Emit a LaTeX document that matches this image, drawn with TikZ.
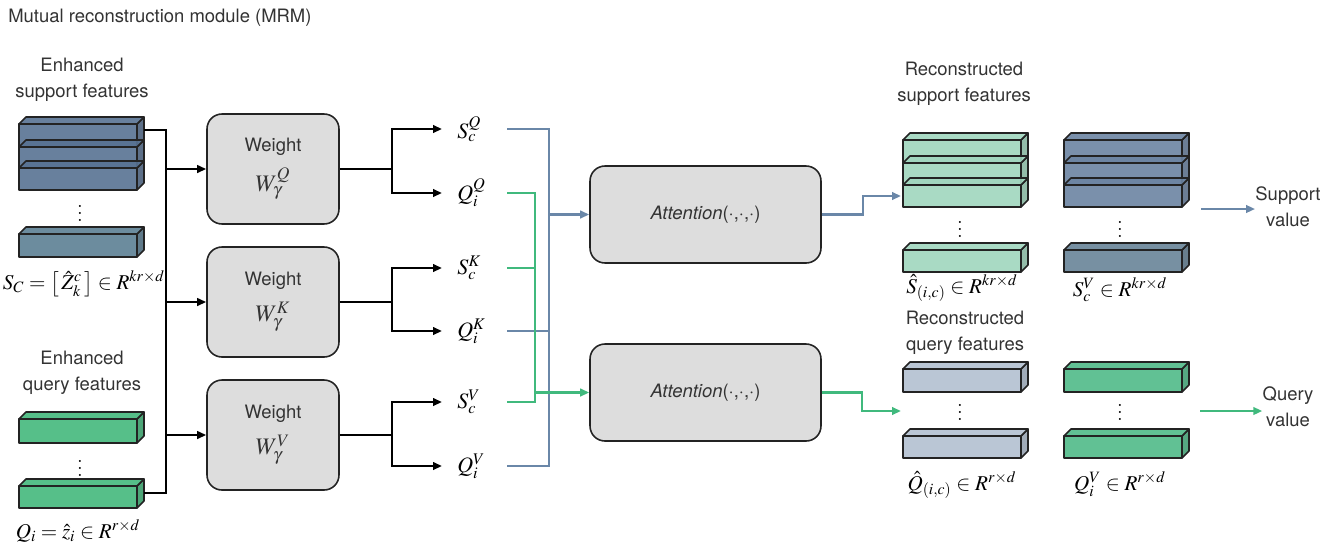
\documentclass[tikz,border=0pt]{standalone}
\usepackage{mathptmx}
\usepackage{fontspec}
\setsansfont{TeX Gyre Heros}
\usetikzlibrary{arrows.meta,calc}

\definecolor{txtgray}{RGB}{51,51,51}
\definecolor{boxgray}{RGB}{221,221,221}
\definecolor{boxline}{RGB}{35,35,35}
\definecolor{supblue}{RGB}{88,114,146}
\definecolor{supblueb}{RGB}{92,127,147}
\definecolor{qrygreen}{RGB}{68,184,124}
\definecolor{recgreen}{RGB}{160,214,190}
\definecolor{valblue}{RGB}{108,132,162}
\definecolor{valblueb}{RGB}{104,132,152}
\definecolor{recgray}{RGB}{178,192,208}
\definecolor{valgreen}{RGB}{80,186,136}
\definecolor{lineblue}{RGB}{106,135,168}
\definecolor{linegreen}{RGB}{64,185,125}

% one feature bar: x, y (top of front face), height, colour
\newcommand{\slab}[4]{%
  \filldraw[slabline,fill=#4!85!black] ({#1+118},#2) -- ++(7,-7) -- ++(0,#3) -- ++(-7,7) -- cycle;
  \filldraw[slabline,fill=#4] (#1,#2) -- ++(7,-7) -- ++(118,0) -- ++(-7,7) -- cycle;
  \filldraw[slabline,fill=#4] (#1,#2) rectangle ++(118,#3);
}

\begin{document}
\begin{tikzpicture}[x=0.02cm,y=-0.02cm,
  slabline/.style={draw=boxline,line width=0.9pt,fill opacity=0.9,line join=round},
  txt/.style={font=\sffamily\fontsize{10.5}{12.6}\selectfont,text=txtgray,align=center,inner sep=0pt},
  mth/.style={font=\fontsize{12}{14}\selectfont,inner sep=0pt},
  lab/.style={font=\fontsize{12.5}{14}\selectfont,anchor=west,inner ysep=0pt,inner xsep=0.3cm},
  wbox/.style={draw=boxline,fill=boxgray,line width=0.9pt,rounded corners=8.5pt,
    minimum width=2.64cm,minimum height=2.2cm,align=center,
    font=\sffamily\fontsize{10.5}{12.6}\selectfont,text=txtgray},
  abox/.style={wbox,minimum width=4.62cm,minimum height=1.94cm},
  blk/.style={line width=1.3pt,black},
  bline/.style={line width=1.4pt,lineblue},
  gline/.style={line width=1.4pt,linegreen},
  >={Triangle[length=1.8mm,width=1.5mm]}]
  \useasboundingbox (0,0) rectangle (1337,552);

  \node[txt,anchor=west] (title) at (8,18) {Mutual reconstruction module (MRM)};

  % enhanced support features
  \node[txt] (esf) at (82,80) {Enhanced\\[2pt]support features};
  \slab{19}{124}{23}{supblue}
  \slab{19}{147}{21}{supblue}
  \slab{19}{168}{22}{supblue}
  \node[mth] (dots1) at (80,208) {$\vdots$};
  \slab{19}{234}{23}{supblueb}
  \node[mth] (sclab) at (84,284) {$S_C=\left[\,\hat{Z}_k^c\,\right]\in R^{kr\times d}$};

  % enhanced query features
  \node[txt] (eqf) at (82,373) {Enhanced\\[2pt]query features};
  \slab{19}{419}{24}{qrygreen}
  \node[mth] (dots2) at (80,463) {$\vdots$};
  \slab{19}{486}{22}{qrygreen}
  \node[mth] (qilab) at (78,531) {$Q_i=\hat{z}_i\in R^{r\times d}$};

  \coordinate (sup) at (144,130);
  \coordinate (qry) at (144,493);
  \coordinate (lbus) at (166,0);

  % weight boxes
  \node[wbox] (w1) at (273,169) {Weight\\[6pt]{\fontsize{13.5}{15}\selectfont$W_\gamma^Q$}};
  \node[wbox] (w2) at (273,302) {Weight\\[6pt]{\fontsize{13.5}{15}\selectfont$W_\gamma^K$}};
  \node[wbox] (w3) at (273,435) {Weight\\[6pt]{\fontsize{13.5}{15}\selectfont$W_\gamma^V$}};

  \draw[blk] (sup) -- (sup -| lbus) -- (qry -| lbus) -- (qry);
  \draw[blk,->] (w1 -| lbus) -- (w1.west);
  \draw[blk,->] (w2 -| lbus) -- (w2.west);
  \draw[blk,->] (w3 -| lbus) -- (w3.west);

  % projected features
  \node[lab] (sq) at (442,129) {$S_c^Q$};
  \node[lab] (qq) at (442,193) {$Q_i^Q$};
  \node[lab] (sk) at (442,268) {$S_c^K$};
  \node[lab] (qk) at (442,331) {$Q_i^K$};
  \node[lab] (sv) at (442,402) {$S_c^V$};
  \node[lab] (qv) at (442,466) {$Q_i^V$};

  \draw[blk] (w1.east) -- ++(52,0) coordinate (f1);
  \draw[blk,->] (f1) |- (sq.west);
  \draw[blk,->] (f1) |- (qq.west);
  \draw[blk] (w2.east) -- ++(52,0) coordinate (f2);
  \draw[blk,->] (f2) |- (sk.west);
  \draw[blk,->] (f2) |- (qk.west);
  \draw[blk] (w3.east) -- ++(52,0) coordinate (f3);
  \draw[blk,->] (f3) |- (sv.west);
  \draw[blk,->] (f3) |- (qv.west);

  % attention
  \node[abox] (att1) at (705.5,214.5) {\textit{Attention}(·,·,·)};
  \node[abox] (att2) at (705.5,392.5) {\textit{Attention}(·,·,·)};

  \coordinate (cx) at (507,0);
  \coordinate (bbus) at (549,0);
  \coordinate (gbus) at (535,0);

  \draw[bline] (sq -| cx) -- (sq -| bbus) -- (qv -| bbus) -- (qv -| cx);
  \draw[bline] (qk -| cx) -- (qk -| bbus);
  \draw[bline,->] (att1 -| bbus) -- (att1.west);
  \draw[gline] (qq -| cx) -- (qq -| gbus) -- (sv -| gbus) -- (sv -| cx);
  \draw[gline] (sk -| cx) -- (sk -| gbus);
  \draw[gline,->] (att2 -| gbus) -- (att2.west);

  % reconstructed support features
  \node[txt] (rsf) at (964,84) {Reconstructed\\[2pt]support features};
  \slab{903}{140}{23}{recgreen}
  \slab{903}{163}{22}{recgreen}
  \slab{903}{185}{22}{recgreen}
  \node[mth] (dots3) at (960,224) {$\vdots$};
  \slab{903}{250}{22}{recgreen}
  \node[mth] (rslab) at (962,288) {$\hat{S}_{(i,c)}\in R^{kr\times d}$};

  \slab{1064}{140}{23}{valblue}
  \slab{1064}{163}{22}{valblue}
  \slab{1064}{185}{22}{valblue}
  \node[mth] (dots4) at (1120,224) {$\vdots$};
  \slab{1064}{250}{22}{valblueb}
  \node[mth] (svlab) at (1120,290) {$S_c^V\in R^{kr\times d}$};

  \coordinate (rsin) at (901,196);
  \draw[bline,->] (att1.east) -- ++(41,0) |- (rsin);

  \node[txt] (supv) at (1288,207) {Support\\[2pt]value};
  \coordinate (sout) at (1201,209);
  \draw[bline,->] (sout) -- (sout -| supv.west);

  % reconstructed query features
  \node[txt] (rqf) at (965,333) {Reconstructed\\[2pt]query features};
  \slab{903}{369}{23}{recgray}
  \node[mth] (dots5) at (960,407) {$\vdots$};
  \slab{903}{436}{22}{recgray}
  \node[mth] (rqlab) at (962,485) {$\hat{Q}_{(i,c)}\in R^{r\times d}$};

  \slab{1064}{369}{23}{valgreen}
  \node[mth] (dots6) at (1120,407) {$\vdots$};
  \slab{1064}{436}{22}{valgreen}
  \node[mth] (qvlab) at (1120,484) {$Q_i^V\in R^{r\times d}$};

  \coordinate (rqin) at (901,411);
  \draw[gline,->] (att2.east) -- ++(40,0) |- (rqin);

  \node[txt] (qryv) at (1288,407) {Query\\[2pt]value};
  \coordinate (qout) at (1200,411);
  \draw[gline,->] (qout) -- (qout -| qryv.west);
\end{tikzpicture}
\end{document}
